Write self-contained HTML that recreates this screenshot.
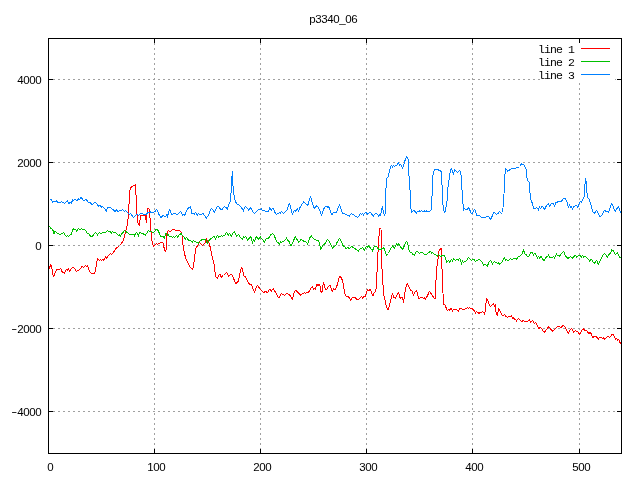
<!DOCTYPE html><html><head><meta charset="utf-8"><title>p3340_06</title><style>
html,body{margin:0;padding:0;background:#fff;width:640px;height:480px;overflow:hidden}
svg{display:block}
text{font-family:"Liberation Sans",sans-serif;font-size:11.5px;fill:#000}
text.k{font-family:"Liberation Mono",monospace;font-size:11.5px}
</style></head><body>
<svg width="640" height="480" viewBox="0 0 640 480">
<rect x="0" y="0" width="640" height="480" fill="#fff"/>
<path d="M154.5 38 V454 M260.5 38 V454 M366.5 38 V454 M472.5 38 V454 M579.5 38 V454 M48 79.5 H622 M48 162.5 H622 M48 245.5 H622 M48 328.5 H622 M48 411.5 H622" stroke="#a0a0a0" stroke-width="1" stroke-dasharray="2 3" fill="none" shape-rendering="crispEdges"/>
<rect x="540" y="39" width="81" height="42" fill="#fff"/>
<rect x="615" y="79" width="1" height="1" fill="#a0a0a0"/>
<path d="M48.5 454 V449 M48.5 38 V43 M154.5 454 V449 M154.5 38 V43 M260.5 454 V449 M260.5 38 V43 M366.5 454 V449 M366.5 38 V43 M472.5 454 V449 M472.5 38 V43 M579.5 454 V449 M579.5 38 V43 M48 79.5 H53 M622 79.5 H617 M48 162.5 H53 M622 162.5 H617 M48 245.5 H53 M622 245.5 H617 M48 328.5 H53 M622 328.5 H617 M48 411.5 H53 M622 411.5 H617" stroke="#000" stroke-width="1" fill="none" shape-rendering="crispEdges"/>
<rect x="48.5" y="38.5" width="573" height="415" stroke="#000" stroke-width="1" fill="none" shape-rendering="crispEdges"/>
<text x="50.5" y="471.0" text-anchor="middle">0</text>
<text x="150.5 156.5 162.5" y="471.0" text-anchor="middle">100</text>
<text x="256.5 262.5 268.5" y="471.0" text-anchor="middle">200</text>
<text x="362.5 368.5 374.5" y="471.0" text-anchor="middle">300</text>
<text x="468.5 474.5 480.5" y="471.0" text-anchor="middle">400</text>
<text x="575.5 581.5 587.5" y="471.0" text-anchor="middle">500</text>
<text x="20.5 26.5 32.5 38.5" y="84.0" text-anchor="middle">4000</text>
<text x="20.5 26.5 32.5 38.5" y="167.0" text-anchor="middle">2000</text>
<text x="38.5" y="250.0" text-anchor="middle">0</text>
<text x="11.2" y="332.0" textLength="6.0" lengthAdjust="spacingAndGlyphs">-</text>
<text x="20.5 26.5 32.5 38.5" y="333.0" text-anchor="middle">2000</text>
<text x="11.2" y="415.0" textLength="6.0" lengthAdjust="spacingAndGlyphs">-</text>
<text x="20.5 26.5 32.5 38.5" y="416.0" text-anchor="middle">4000</text>
<text x="312.5 318.5 324.5 330.5 336.5 342.5 348.5 354.5" y="23.0" text-anchor="middle">p3340_06</text>
<text x="541.5 547.5 553.5 559.5 565.5 571.5" y="53.0" text-anchor="middle" class="k">line 1</text>
<path d="M581 48.5 H610" stroke="#ff0000" stroke-width="1" shape-rendering="crispEdges"/>
<text x="541.5 547.5 553.5 559.5 565.5 571.5" y="66.0" text-anchor="middle" class="k">line 2</text>
<path d="M581 61.5 H610" stroke="#00c000" stroke-width="1" shape-rendering="crispEdges"/>
<text x="541.5 547.5 553.5 559.5 565.5 571.5" y="79.0" text-anchor="middle" class="k">line 3</text>
<path d="M581 74.5 H610" stroke="#0080ff" stroke-width="1" shape-rendering="crispEdges"/>
<path d="M49.3 266.5 L49.7 268.5 L50.5 264.7 L51.3 266.0 L51.7 268.0 L52.3 270.0 L52.7 274.0 L53.5 276.6 L54.5 274.4 L55.5 271.9 L56.5 270.0 L59.0 269.7 L60.5 268.4 L61.5 270.3 L62.5 272.5 L63.5 272.5 L64.5 273.1 L65.5 270.9 L66.5 269.4 L67.5 270.0 L68.5 268.4 L69.5 271.2 L70.5 270.0 L71.5 268.4 L73.0 267.2 L74.5 268.1 L75.5 270.0 L76.5 271.9 L77.5 270.3 L78.5 270.3 L79.5 269.7 L80.5 268.8 L81.5 266.6 L82.5 266.2 L83.5 267.5 L84.5 266.2 L85.5 265.3 L86.5 266.2 L87.5 265.6 L88.3 267.5 L88.7 269.4 L89.5 270.6 L90.5 272.8 L91.5 273.4 L94.5 273.4 L95.5 270.0 L96.3 266.0 L96.7 262.5 L97.5 259.0 L98.5 259.4 L99.5 260.3 L100.5 259.4 L101.5 260.3 L102.5 259.4 L103.5 260.3 L104.5 258.8 L105.5 256.6 L106.5 258.1 L107.5 256.9 L108.5 255.6 L109.5 254.4 L110.5 253.4 L111.5 254.4 L112.5 253.8 L113.5 252.5 L114.5 250.6 L116.1 248.5 L118.0 246.9 L119.5 245.5 L121.0 244.0 L122.5 242.0 L123.5 240.0 L124.5 236.5 L125.5 232.0 L126.5 228.5 L127.5 224.0 L128.5 214.0 L129.2 200.0 L129.7 192.0 L130.5 188.0 L131.7 186.6 L133.9 185.5 L135.5 185.0 L136.0 195.0 L136.5 208.0 L137.2 216.0 L137.7 221.5 L138.5 224.5 L139.3 225.5 L139.8 222.0 L140.5 216.0 L141.5 215.5 L145.5 215.2 L146.3 223.0 L146.7 215.0 L147.5 209.0 L148.5 208.3 L149.5 210.0 L150.3 222.0 L150.7 226.7 L151.5 240.5 L152.3 241.5 L152.7 244.5 L153.5 246.0 L154.5 245.2 L155.5 244.5 L156.5 243.3 L157.5 244.3 L158.5 243.5 L159.5 243.3 L160.5 242.3 L162.5 242.3 L163.3 243.5 L163.7 246.5 L164.5 249.0 L165.3 251.5 L165.9 251.5 L166.3 245.0 L166.7 236.0 L167.3 232.0 L167.8 231.0 L168.5 230.3 L169.5 231.2 L170.5 231.2 L171.5 230.6 L172.5 229.4 L174.5 229.4 L175.5 230.3 L179.5 230.3 L180.5 231.2 L181.5 232.5 L182.2 236.0 L182.5 242.0 L183.3 246.0 L183.7 250.0 L184.5 253.5 L185.5 257.5 L186.5 260.3 L187.5 262.3 L188.5 263.7 L189.5 266.3 L190.5 267.8 L191.5 268.5 L192.5 269.2 L193.3 267.0 L193.7 263.0 L194.3 261.0 L194.7 255.5 L195.3 253.0 L195.7 248.5 L196.5 247.0 L197.5 245.7 L198.5 244.0 L199.5 242.4 L200.5 243.8 L201.5 244.5 L202.5 245.2 L203.5 244.5 L204.5 243.8 L205.5 241.7 L206.5 238.5 L207.5 241.0 L208.1 241.2 L208.5 242.0 L209.5 244.5 L210.5 248.5 L211.5 253.5 L212.5 258.0 L213.5 261.5 L214.3 265.0 L214.7 270.0 L215.3 273.0 L215.7 277.0 L216.5 277.5 L217.5 278.0 L218.5 275.5 L219.5 274.5 L220.5 275.0 L221.5 278.0 L222.5 276.0 L223.5 275.5 L224.5 274.5 L225.5 273.5 L226.5 272.5 L227.5 273.5 L228.5 277.0 L229.5 275.5 L231.0 274.5 L232.5 275.5 L233.5 278.0 L234.5 281.0 L236.0 283.5 L237.5 282.0 L238.5 281.0 L239.5 276.0 L240.5 271.0 L241.5 267.5 L242.5 269.0 L243.5 275.5 L245.0 276.5 L246.5 278.5 L247.5 281.5 L248.5 283.2 L249.5 284.2 L250.5 284.5 L251.5 284.8 L252.5 287.6 L253.5 290.1 L254.5 292.0 L255.5 290.1 L256.5 286.7 L257.5 285.4 L258.5 286.7 L259.5 288.2 L260.5 289.8 L261.5 290.4 L262.5 291.7 L263.5 292.9 L264.5 292.0 L266.0 291.4 L267.5 292.9 L268.5 290.4 L270.0 289.2 L271.5 291.1 L272.5 289.5 L273.5 288.6 L274.5 290.8 L275.5 292.0 L276.5 293.9 L277.5 296.7 L278.5 297.3 L279.5 297.0 L280.5 294.8 L281.5 293.6 L283.0 294.5 L284.5 295.4 L285.5 294.2 L287.0 293.2 L288.5 294.6 L289.5 294.6 L290.5 296.1 L291.5 298.0 L292.5 299.2 L293.5 294.9 L294.5 291.4 L295.5 290.2 L296.5 291.1 L297.5 292.1 L298.5 293.0 L299.5 293.9 L300.5 295.2 L301.5 294.9 L302.5 293.3 L303.5 293.3 L304.5 292.4 L305.5 293.3 L306.5 292.7 L308.0 292.4 L309.5 291.4 L310.5 288.6 L311.5 287.4 L312.5 286.4 L313.5 289.2 L314.5 288.3 L315.5 289.2 L316.5 284.6 L318.0 285.2 L319.5 284.6 L320.3 287.0 L320.7 290.5 L321.5 293.0 L322.3 291.0 L322.7 287.4 L323.5 282.4 L324.5 285.5 L325.5 289.9 L326.5 289.9 L327.5 287.7 L328.5 286.3 L329.5 285.3 L330.5 286.0 L331.5 289.3 L332.5 291.7 L333.5 288.7 L334.5 289.3 L335.5 289.0 L336.5 286.7 L337.5 284.3 L338.5 279.3 L339.5 276.7 L340.5 276.7 L341.5 278.0 L342.5 280.7 L343.5 285.3 L344.5 292.0 L345.5 295.7 L346.5 296.3 L347.5 297.0 L348.5 296.7 L349.5 298.3 L350.5 300.0 L351.5 298.7 L352.5 297.3 L354.0 297.3 L355.5 297.7 L356.5 299.0 L358.0 299.3 L359.5 298.7 L360.5 297.7 L361.5 296.3 L362.5 298.0 L363.5 296.7 L365.0 296.7 L366.5 292.7 L367.5 290.0 L368.6 290.6 L370.2 289.4 L371.8 293.1 L373.0 296.2 L374.2 292.5 L375.8 291.2 L376.5 283.0 L377.5 262.0 L378.5 243.0 L379.3 232.0 L380.0 228.5 L381.0 229.0 L381.5 253.0 L382.5 284.0 L383.3 286.0 L383.7 295.7 L384.5 297.5 L385.5 302.5 L386.5 307.0 L387.5 309.3 L388.5 309.3 L389.5 305.5 L390.5 301.0 L391.5 297.0 L392.5 293.3 L393.5 297.0 L394.5 297.3 L395.5 298.3 L396.5 295.7 L397.5 293.7 L398.5 292.3 L399.5 296.0 L400.5 299.0 L401.5 297.3 L402.5 298.0 L403.5 302.3 L404.5 295.3 L405.5 288.7 L406.5 285.0 L407.5 283.7 L408.5 286.3 L409.5 287.7 L410.5 290.7 L411.5 290.3 L412.5 292.3 L413.5 295.3 L414.5 292.7 L415.5 291.3 L416.5 290.7 L417.5 293.3 L418.5 298.7 L419.5 299.0 L420.5 297.3 L422.5 297.3 L423.5 298.3 L424.5 297.7 L425.5 299.0 L426.5 297.3 L427.5 295.7 L428.5 293.3 L429.5 291.3 L430.5 292.7 L431.5 294.3 L432.5 295.7 L433.5 297.3 L434.5 298.3 L435.3 298.3 L436.2 275.0 L437.1 265.0 L438.0 259.4 L438.5 252.5 L439.6 250.0 L441.2 248.1 L441.8 260.0 L442.1 272.5 L442.8 289.0 L443.5 304.0 L444.5 304.3 L445.3 305.0 L445.7 306.7 L446.5 309.0 L447.5 310.7 L448.5 309.3 L449.5 310.0 L450.5 308.7 L451.5 309.0 L452.5 311.0 L453.5 309.3 L456.5 309.3 L457.5 310.3 L458.5 311.3 L459.5 309.0 L460.5 308.3 L461.5 308.4 L462.5 309.3 L464.5 309.3 L465.5 308.7 L466.5 309.0 L467.5 307.4 L468.5 308.4 L469.5 307.4 L470.5 308.4 L472.0 308.7 L473.5 309.6 L474.5 311.2 L475.5 313.1 L476.5 311.5 L477.5 312.4 L479.0 313.4 L480.5 312.4 L481.5 312.4 L482.5 311.5 L483.5 312.4 L484.5 314.0 L485.3 311.0 L485.7 304.3 L486.3 302.0 L486.7 298.4 L487.5 300.0 L488.5 302.1 L489.5 305.9 L490.5 306.5 L491.5 305.2 L492.5 304.3 L493.5 303.7 L494.5 306.5 L495.3 304.5 L495.7 311.0 L496.5 314.0 L497.5 315.2 L498.5 309.0 L499.5 309.6 L500.5 311.8 L501.5 313.8 L502.5 315.7 L503.5 316.0 L504.5 314.4 L505.5 316.0 L506.5 316.6 L507.5 317.6 L508.5 316.3 L510.5 316.3 L511.5 315.7 L512.5 318.2 L513.5 317.6 L514.5 319.1 L515.5 319.4 L516.5 321.3 L517.5 319.4 L518.5 318.2 L519.5 319.8 L520.5 320.7 L522.0 321.3 L523.5 320.4 L524.5 321.3 L527.5 321.3 L528.5 320.4 L529.5 319.4 L530.5 322.9 L531.5 321.3 L532.5 320.4 L533.5 322.0 L534.5 323.5 L535.5 322.6 L536.5 323.8 L537.5 326.0 L538.5 328.2 L539.5 328.2 L540.5 327.2 L541.5 328.3 L542.5 330.2 L543.5 331.4 L544.5 332.4 L545.5 330.8 L546.5 329.6 L547.5 328.6 L548.5 326.4 L549.5 327.7 L550.5 328.9 L551.5 329.9 L552.5 331.1 L553.5 330.8 L554.5 329.2 L555.5 328.3 L556.5 327.4 L557.5 326.4 L558.5 326.4 L559.5 326.8 L561.0 327.4 L562.5 326.1 L563.5 325.5 L564.5 326.1 L565.5 328.0 L566.5 329.9 L567.5 331.8 L568.5 333.0 L569.5 331.1 L570.5 329.6 L571.5 328.3 L572.5 329.9 L573.5 332.1 L574.5 331.4 L575.5 330.5 L576.5 331.1 L577.5 331.4 L578.5 332.7 L579.5 334.2 L580.5 333.0 L581.5 330.9 L582.5 329.6 L583.5 329.0 L584.5 329.9 L585.5 330.9 L586.5 330.6 L587.5 331.8 L588.5 333.4 L589.5 333.1 L590.5 332.4 L591.5 334.6 L592.5 337.8 L593.5 337.1 L595.0 336.2 L596.5 336.8 L597.5 338.1 L598.5 339.0 L599.5 337.4 L601.5 337.4 L602.5 338.7 L603.5 337.1 L604.5 340.0 L605.5 338.4 L606.5 337.4 L607.5 336.8 L608.5 336.5 L609.5 337.4 L610.5 336.5 L611.5 334.9 L612.5 334.3 L613.5 334.9 L614.5 337.1 L615.5 339.6 L616.5 338.4 L617.5 340.2 L618.5 339.3 L619.5 340.9 L620.5 344.0" stroke="#ff0000" stroke-width="1" fill="none" stroke-linejoin="round" shape-rendering="crispEdges"/>
<path d="M49.5 226.4 L50.5 228.0 L51.5 228.6 L52.5 229.5 L53.2 231.0 L53.7 234.0 L54.3 233.5 L54.8 231.5 L55.5 231.7 L56.5 232.6 L57.5 233.3 L58.5 233.5 L59.5 234.8 L60.5 234.2 L61.5 233.6 L62.5 233.2 L63.5 232.3 L64.5 233.9 L65.5 235.4 L66.5 236.4 L67.5 235.4 L68.5 236.4 L69.5 235.4 L70.5 234.2 L71.5 234.0 L72.5 230.4 L73.5 228.6 L74.5 229.4 L75.5 229.5 L76.5 231.0 L77.5 229.8 L78.5 228.6 L79.5 229.5 L80.5 229.4 L81.5 228.6 L82.5 229.4 L84.0 229.5 L85.5 230.4 L86.5 232.0 L87.5 233.5 L88.5 233.2 L89.5 234.5 L90.5 236.7 L91.5 236.4 L92.5 236.0 L93.5 234.8 L94.5 233.6 L95.5 232.3 L96.5 233.2 L97.5 235.1 L98.5 233.6 L99.5 232.3 L100.5 233.9 L101.5 233.9 L102.5 232.3 L105.5 232.3 L106.5 231.4 L107.5 230.4 L108.5 231.7 L109.5 231.4 L110.5 231.7 L111.5 233.2 L112.5 231.4 L113.5 232.3 L115.5 232.3 L116.5 233.9 L117.5 234.5 L118.5 235.1 L119.5 234.8 L120.5 236.0 L121.5 233.9 L122.5 233.2 L123.5 231.7 L124.5 230.4 L125.5 231.7 L127.5 232.3 L128.5 233.6 L129.5 234.2 L133.5 234.2 L134.5 236.0 L135.5 233.2 L136.5 232.3 L137.5 233.9 L138.5 236.0 L139.5 232.6 L140.5 232.3 L141.5 233.2 L142.5 233.2 L143.5 234.2 L144.5 234.5 L145.5 235.1 L146.5 233.6 L147.5 232.0 L148.5 230.1 L149.5 231.4 L150.5 231.7 L153.5 232.3 L154.5 231.7 L155.5 230.1 L156.5 229.2 L157.5 229.8 L158.5 231.4 L159.5 233.6 L160.5 237.0 L161.5 236.4 L163.5 236.7 L164.2 238.5 L164.8 236.4 L165.5 233.9 L166.5 233.2 L167.5 235.1 L168.5 234.7 L169.5 236.9 L170.5 236.2 L171.5 236.6 L172.5 237.2 L173.5 236.6 L174.5 237.5 L175.5 236.6 L176.5 235.3 L177.5 237.2 L178.5 235.9 L179.5 234.7 L180.5 234.1 L181.5 233.4 L182.5 235.9 L183.5 236.2 L184.5 237.8 L185.5 239.1 L186.5 237.5 L187.5 238.8 L188.5 240.3 L190.5 240.3 L191.5 241.2 L192.5 242.2 L193.5 240.3 L194.5 241.2 L195.5 241.6 L196.5 242.2 L197.5 242.5 L198.5 243.1 L199.5 241.6 L200.5 240.9 L201.5 240.0 L203.5 239.4 L204.5 240.0 L205.5 239.1 L206.5 241.6 L207.5 243.1 L208.5 241.3 L209.5 240.0 L210.5 238.8 L211.5 238.8 L212.5 237.6 L213.5 236.3 L214.5 236.6 L215.5 239.1 L216.5 236.6 L217.5 235.4 L218.5 237.2 L219.5 236.6 L220.5 236.3 L221.5 235.4 L222.5 236.3 L223.5 235.7 L224.5 236.0 L225.5 233.5 L226.5 232.2 L227.5 233.8 L228.5 235.1 L229.5 233.5 L230.5 234.8 L231.5 236.3 L232.5 233.8 L233.5 232.6 L234.5 231.3 L235.5 233.8 L236.5 236.9 L237.5 235.4 L238.5 234.4 L239.5 236.0 L240.5 237.9 L241.5 238.5 L242.5 239.1 L243.5 236.9 L244.5 237.2 L245.5 236.3 L246.5 238.2 L247.5 240.1 L248.5 239.3 L249.5 238.1 L250.5 236.5 L251.5 238.4 L252.5 243.1 L253.5 239.9 L254.5 241.8 L255.5 238.4 L256.5 236.5 L257.5 237.8 L258.5 239.3 L259.5 237.8 L260.5 236.8 L261.5 238.7 L262.5 239.3 L263.5 240.9 L264.5 242.1 L265.5 239.6 L266.5 238.4 L268.5 238.4 L269.5 236.8 L270.5 234.9 L271.5 234.3 L272.5 233.4 L273.5 234.3 L274.5 235.9 L275.5 239.0 L276.5 241.2 L277.5 242.4 L278.5 243.1 L279.5 244.0 L280.5 241.8 L281.5 242.4 L282.5 241.5 L283.5 241.2 L284.5 240.6 L285.5 239.9 L286.5 237.4 L287.5 239.9 L288.5 240.6 L289.5 242.4 L290.5 244.9 L291.5 245.9 L292.5 242.8 L293.5 240.6 L294.5 238.4 L295.5 236.5 L296.5 239.0 L297.5 240.2 L298.5 242.1 L299.5 241.5 L300.5 239.9 L301.5 239.3 L302.5 240.2 L303.5 241.2 L304.5 241.2 L305.5 241.5 L306.5 242.4 L307.5 244.0 L308.5 241.5 L309.5 238.7 L310.5 236.5 L311.5 235.6 L312.5 237.8 L313.5 238.4 L314.5 239.6 L315.5 239.3 L316.5 240.2 L317.5 240.6 L318.5 240.9 L319.5 243.1 L320.3 247.8 L320.7 250.0 L321.5 247.8 L322.5 245.9 L323.5 244.6 L324.5 244.0 L325.5 243.1 L326.5 241.2 L327.5 239.3 L328.5 240.8 L329.5 241.7 L330.5 244.2 L331.5 246.1 L332.5 248.0 L333.5 247.0 L334.5 246.4 L335.5 245.8 L336.5 243.6 L337.5 241.7 L338.5 239.8 L339.5 238.2 L340.5 239.8 L341.5 242.0 L342.5 244.2 L343.5 246.7 L344.5 246.4 L345.5 248.0 L346.5 248.2 L347.5 247.3 L348.5 248.0 L349.5 248.2 L350.5 247.6 L351.5 246.4 L352.5 247.0 L353.5 247.3 L354.5 248.2 L355.5 249.2 L356.5 249.5 L357.5 250.4 L358.5 251.1 L359.5 249.5 L360.5 248.6 L361.5 248.2 L362.5 247.3 L363.5 248.6 L364.5 250.1 L365.5 248.0 L366.5 246.4 L367.5 247.3 L368.5 246.0 L369.5 246.9 L370.5 248.2 L371.5 249.4 L372.5 251.0 L373.5 248.2 L374.5 246.3 L376.5 246.3 L377.5 247.6 L378.5 249.4 L379.5 249.4 L380.5 250.0 L381.5 249.1 L382.5 248.5 L383.5 247.6 L384.5 249.4 L385.5 252.6 L386.5 255.4 L387.5 254.8 L388.5 253.5 L389.5 251.0 L390.5 248.8 L391.5 247.6 L392.5 246.0 L393.5 246.6 L394.5 248.2 L395.5 245.7 L396.5 243.8 L397.5 245.4 L398.5 243.8 L399.5 244.8 L400.5 246.6 L401.5 248.2 L402.5 249.4 L403.5 247.6 L404.5 245.4 L405.5 242.6 L406.5 241.3 L407.5 242.9 L408.3 245.5 L408.7 249.0 L409.5 251.1 L410.5 252.7 L411.5 252.4 L412.5 253.9 L413.5 254.6 L414.5 255.8 L415.5 252.7 L416.5 251.4 L417.5 251.4 L418.5 252.7 L419.5 253.3 L420.5 252.4 L422.5 252.4 L423.5 253.6 L424.5 254.6 L426.5 254.6 L427.5 253.6 L428.5 252.4 L429.5 252.1 L430.5 251.1 L431.5 253.0 L432.5 252.4 L433.5 253.6 L434.5 254.6 L435.5 254.6 L436.5 255.5 L437.5 256.1 L438.5 254.6 L439.5 255.5 L440.5 256.4 L441.5 256.1 L442.5 255.5 L443.5 255.5 L444.5 255.8 L445.5 258.0 L446.5 262.5 L447.5 261.6 L448.5 260.3 L449.5 262.2 L450.5 260.6 L451.5 259.4 L452.5 261.2 L453.5 258.4 L454.5 259.7 L455.5 260.3 L456.5 259.4 L457.5 259.4 L458.5 260.0 L459.5 258.4 L460.5 260.0 L461.5 264.1 L462.5 260.6 L463.5 262.8 L464.5 261.6 L465.5 261.2 L466.5 260.9 L467.5 259.1 L468.5 257.5 L469.5 258.1 L470.5 259.7 L471.5 260.3 L472.5 259.4 L473.5 259.4 L474.5 260.0 L475.5 261.9 L476.5 260.6 L477.5 260.3 L478.5 259.7 L479.5 259.4 L480.5 260.6 L481.5 261.2 L482.5 262.5 L483.5 265.6 L484.5 264.7 L485.5 264.4 L486.5 265.4 L487.5 266.6 L488.5 262.6 L489.5 261.6 L490.5 260.4 L491.5 261.6 L492.5 264.1 L493.5 262.6 L494.5 261.3 L495.5 262.2 L496.5 262.6 L497.5 263.5 L498.5 262.6 L499.5 264.1 L500.5 263.5 L501.5 262.6 L502.5 261.3 L503.5 258.8 L504.5 257.6 L505.5 260.1 L506.5 259.4 L507.5 260.4 L508.5 260.4 L509.5 259.8 L510.5 258.5 L511.5 259.1 L512.5 259.4 L513.5 258.8 L514.5 258.5 L515.5 258.8 L516.5 259.4 L517.5 257.9 L518.5 256.6 L519.5 256.3 L520.5 255.7 L521.5 254.4 L522.5 253.2 L523.5 249.8 L524.5 252.9 L525.5 254.4 L526.5 254.8 L527.5 256.9 L528.5 256.6 L529.5 254.8 L530.5 253.2 L531.5 252.2 L532.5 253.2 L533.5 255.1 L534.5 253.5 L535.5 253.8 L536.5 256.3 L537.5 258.2 L538.5 256.3 L539.5 258.2 L540.5 256.6 L541.5 256.9 L542.5 258.8 L543.5 260.4 L544.5 260.1 L545.5 258.2 L546.5 256.6 L547.5 256.9 L548.5 254.4 L549.5 257.9 L550.5 257.6 L551.5 257.6 L552.5 257.2 L553.5 256.3 L554.5 258.2 L555.5 255.7 L556.5 253.8 L557.5 255.7 L558.5 255.4 L559.5 256.3 L560.5 254.8 L561.5 253.5 L562.5 252.9 L563.5 251.3 L564.5 253.2 L565.5 256.0 L566.5 257.2 L567.5 258.2 L568.5 258.2 L569.5 257.2 L570.5 256.3 L571.5 257.9 L572.5 258.2 L573.5 257.2 L574.5 256.0 L575.5 255.4 L576.5 257.2 L577.5 256.3 L578.5 255.4 L579.5 255.4 L580.5 255.7 L581.5 257.2 L582.5 255.4 L583.5 257.2 L584.5 256.3 L585.5 256.3 L586.5 257.2 L587.5 258.8 L588.5 259.4 L589.5 261.0 L590.5 260.1 L591.5 259.4 L592.5 260.7 L593.5 262.6 L594.5 263.2 L595.5 261.9 L596.5 260.4 L597.5 262.2 L598.5 264.8 L599.5 261.9 L600.5 259.8 L601.5 257.8 L602.5 255.7 L603.5 254.6 L604.5 253.4 L605.5 254.4 L606.5 255.9 L607.5 257.8 L608.5 255.0 L609.5 253.8 L610.5 253.6 L611.5 249.8 L612.5 250.2 L613.5 250.9 L614.5 252.8 L615.5 254.8 L616.5 253.4 L617.5 252.8 L618.5 254.8 L619.5 256.7 L620.5 258.0" stroke="#00c000" stroke-width="1" fill="none" stroke-linejoin="round" shape-rendering="crispEdges"/>
<path d="M49.5 199.5 L51.5 199.5 L52.5 202.5 L53.5 201.5 L55.5 201.5 L56.5 200.5 L57.5 202.5 L60.5 202.5 L61.5 201.5 L62.5 202.5 L63.5 202.5 L64.5 203.5 L65.5 202.5 L66.5 201.5 L67.5 200.5 L68.5 203.5 L69.5 203.0 L70.5 202.5 L71.5 203.5 L72.5 199.5 L73.5 200.5 L74.5 199.5 L75.5 199.5 L76.5 200.5 L77.5 200.5 L78.5 198.5 L79.5 199.5 L80.5 198.0 L81.5 197.5 L82.5 199.5 L83.5 200.5 L84.5 200.5 L85.5 199.5 L86.5 199.5 L87.5 201.5 L88.5 202.5 L90.5 202.5 L91.5 204.5 L92.5 204.5 L93.5 203.5 L94.5 202.5 L95.5 202.5 L96.5 203.5 L97.5 204.5 L98.5 206.5 L99.5 205.5 L100.5 205.5 L101.5 207.5 L102.5 206.5 L103.5 207.5 L104.5 208.5 L105.5 209.5 L106.2 211.5 L106.8 209.5 L107.5 207.5 L110.5 207.5 L111.5 208.5 L112.5 209.5 L113.5 209.5 L114.5 211.5 L115.5 211.5 L116.5 209.5 L117.5 211.5 L118.5 211.5 L119.5 210.5 L121.5 210.5 L122.5 209.5 L123.5 210.5 L124.5 211.5 L125.5 210.5 L126.5 211.5 L127.5 212.5 L128.5 213.5 L129.5 214.5 L130.5 213.5 L131.5 214.5 L132.5 216.5 L133.5 217.5 L134.5 216.5 L135.5 215.5 L136.5 214.9 L137.5 214.6 L138.5 215.5 L139.5 214.2 L140.5 213.6 L141.5 213.3 L142.5 213.6 L143.5 214.2 L144.5 214.6 L145.5 214.9 L146.5 214.2 L147.5 213.0 L149.5 212.4 L150.5 211.8 L151.5 213.0 L152.5 212.7 L153.5 212.4 L154.5 211.8 L155.5 211.1 L156.5 209.6 L157.5 210.8 L158.5 213.9 L159.5 214.9 L160.5 217.1 L161.5 217.1 L162.5 215.8 L163.5 215.2 L164.5 216.4 L165.5 216.8 L166.5 214.9 L167.5 217.4 L168.5 211.8 L169.5 209.6 L170.5 211.4 L171.5 214.6 L172.5 214.2 L173.5 213.9 L175.5 213.3 L176.5 214.6 L177.5 214.6 L178.5 213.3 L179.5 212.7 L180.5 211.4 L181.5 212.7 L182.5 215.8 L183.5 214.6 L184.5 215.2 L185.5 213.6 L186.5 210.8 L187.5 208.6 L189.5 207.4 L190.5 206.4 L191.3 210.2 L191.8 213.6 L193.5 213.3 L194.5 214.2 L195.5 212.4 L196.5 213.6 L197.5 215.2 L198.5 213.3 L199.5 214.6 L201.5 214.6 L202.5 213.6 L203.5 213.9 L204.5 215.8 L205.5 216.8 L206.5 218.0 L207.5 216.1 L208.5 215.8 L209.5 212.4 L210.5 209.9 L211.5 208.3 L212.5 209.6 L213.5 210.8 L214.5 212.1 L215.5 209.6 L216.5 207.9 L217.5 206.3 L218.5 206.3 L219.5 207.6 L220.5 209.1 L221.5 209.4 L222.5 209.1 L223.5 207.2 L224.5 206.3 L225.5 207.2 L226.5 208.2 L227.5 209.1 L228.5 204.5 L229.5 203.0 L230.5 201.0 L231.5 185.0 L232.3 171.0 L232.7 183.0 L233.5 190.0 L234.3 198.0 L235.5 201.5 L236.5 203.5 L237.5 204.8 L238.5 204.4 L239.5 205.7 L240.5 206.6 L241.5 207.9 L242.5 208.8 L243.5 211.3 L244.5 207.2 L245.5 206.3 L246.5 207.6 L247.5 208.2 L248.5 210.1 L249.5 208.8 L250.5 207.6 L251.5 209.4 L252.5 211.0 L253.5 212.6 L254.5 213.2 L255.5 212.9 L256.5 211.2 L257.5 210.6 L258.5 209.4 L260.5 209.4 L261.5 208.4 L262.5 210.9 L263.5 210.3 L264.5 210.3 L265.5 211.2 L267.5 211.2 L268.5 211.9 L269.5 207.5 L270.5 209.4 L271.5 210.0 L272.5 208.4 L273.5 208.4 L274.5 211.6 L275.5 213.1 L276.5 214.4 L277.5 213.4 L278.5 213.4 L279.5 212.5 L280.5 213.1 L281.5 211.6 L282.5 212.5 L283.5 213.4 L284.5 212.5 L285.5 211.6 L286.5 210.6 L287.5 208.8 L288.5 205.0 L289.5 203.8 L290.5 206.9 L291.5 211.2 L292.5 214.4 L293.5 211.9 L294.5 210.3 L295.5 211.2 L296.5 209.6 L297.5 208.7 L298.5 211.5 L299.5 208.4 L300.5 206.5 L301.5 204.9 L302.5 203.7 L303.5 201.8 L304.5 202.4 L305.5 203.4 L306.5 204.3 L307.5 205.9 L308.5 203.1 L309.5 199.0 L310.5 196.8 L311.5 199.6 L312.5 203.4 L313.5 206.5 L314.5 208.7 L315.5 207.4 L316.5 205.6 L317.5 206.2 L318.5 207.4 L319.5 209.9 L320.5 212.8 L321.5 215.2 L322.5 212.8 L323.5 209.6 L324.5 207.4 L326.0 206.5 L327.5 207.1 L328.5 206.5 L329.5 208.7 L330.5 211.8 L331.5 214.0 L332.5 214.0 L333.5 212.4 L335.5 212.4 L336.5 212.4 L337.5 209.9 L338.5 206.8 L339.5 204.6 L340.5 207.1 L341.5 210.2 L342.5 213.0 L344.0 213.3 L345.5 214.2 L346.5 214.6 L347.5 215.5 L348.5 215.5 L349.5 216.1 L350.5 214.2 L351.5 213.3 L352.5 214.2 L353.5 214.6 L354.5 215.5 L356.0 216.4 L357.5 217.4 L358.5 216.8 L359.5 214.6 L360.5 213.3 L361.5 214.2 L362.5 213.3 L363.5 215.2 L364.5 213.3 L365.5 212.4 L366.5 212.7 L367.5 214.2 L368.5 213.3 L369.5 212.4 L370.5 212.7 L371.5 213.9 L372.5 215.2 L373.5 216.1 L374.5 214.2 L375.5 213.3 L376.5 213.5 L377.5 214.5 L378.5 216.0 L379.5 215.0 L380.5 215.5 L381.5 210.5 L382.3 206.0 L382.8 209.0 L383.5 212.5 L384.5 216.0 L385.3 213.0 L385.7 195.0 L386.5 178.5 L387.5 177.4 L388.3 176.5 L388.7 174.5 L389.5 171.0 L390.3 168.5 L390.7 166.0 L391.5 165.4 L392.5 167.2 L393.5 165.4 L394.5 166.3 L395.5 165.7 L396.5 165.4 L397.5 164.0 L398.5 162.5 L399.5 165.1 L400.5 164.5 L401.5 166.0 L402.5 168.0 L403.5 166.0 L404.5 162.0 L405.5 159.0 L406.5 156.4 L407.5 157.2 L408.3 160.0 L408.7 171.7 L409.5 183.0 L410.3 194.0 L410.7 206.7 L411.5 213.0 L412.5 211.3 L413.5 210.4 L414.5 210.8 L415.5 212.0 L416.5 213.0 L417.5 211.3 L418.5 211.9 L419.5 210.8 L420.5 211.3 L421.5 210.4 L422.5 211.3 L423.5 211.9 L424.5 210.8 L425.5 211.3 L426.5 210.8 L427.5 211.9 L428.5 211.9 L429.5 211.3 L430.5 210.8 L431.3 210.0 L431.7 198.0 L432.3 195.0 L432.7 177.5 L433.5 172.0 L434.5 169.3 L436.0 170.0 L437.5 169.3 L439.0 170.3 L440.5 170.7 L441.3 172.0 L441.7 184.0 L442.3 186.0 L442.7 203.0 L443.5 208.0 L444.5 213.0 L445.5 210.0 L446.5 204.5 L447.3 199.0 L447.7 189.0 L448.3 186.0 L448.7 182.0 L449.3 178.0 L449.6 173.5 L450.3 172.5 L450.7 169.5 L451.5 168.5 L452.3 170.3 L452.7 172.4 L453.5 174.5 L454.3 171.0 L454.7 169.5 L455.5 170.3 L456.5 171.4 L457.5 172.4 L458.5 171.2 L459.5 170.3 L460.3 171.2 L460.7 174.5 L461.3 175.5 L461.7 185.0 L462.3 195.0 L463.5 210.1 L464.5 208.2 L466.0 210.1 L467.5 208.9 L468.5 207.6 L469.5 209.5 L470.5 211.7 L471.5 213.9 L472.5 212.9 L473.5 210.8 L474.5 209.5 L475.5 210.8 L476.5 215.8 L479.5 215.4 L480.5 216.4 L481.5 217.3 L485.5 217.3 L487.0 216.4 L488.5 216.7 L489.5 217.6 L490.5 219.2 L491.5 217.9 L492.5 215.1 L493.5 212.9 L494.5 212.3 L495.5 213.9 L497.0 214.2 L498.5 212.9 L499.5 211.4 L500.5 212.9 L501.5 213.2 L502.5 212.5 L503.8 200.0 L504.5 179.0 L505.5 169.0 L506.5 169.5 L507.5 171.0 L508.5 170.5 L510.0 169.8 L511.5 168.5 L513.5 168.5 L515.5 168.3 L516.5 167.5 L518.0 167.5 L519.5 166.5 L520.5 165.5 L521.5 163.5 L522.5 164.5 L524.0 165.0 L525.0 167.0 L526.0 169.0 L526.5 174.5 L527.5 180.5 L529.0 182.0 L529.8 191.0 L530.3 195.0 L530.7 199.5 L531.5 201.0 L532.5 204.0 L533.3 207.0 L533.7 209.0 L534.5 208.6 L535.5 208.2 L536.5 207.3 L537.5 208.2 L538.5 210.1 L539.5 206.7 L540.5 208.9 L541.5 206.7 L542.5 206.7 L543.5 207.9 L544.5 209.2 L545.5 207.6 L546.5 205.4 L547.5 204.5 L548.5 203.6 L549.5 206.4 L550.5 205.1 L551.5 203.6 L552.5 203.2 L553.5 203.6 L554.5 207.0 L555.5 202.9 L557.0 202.3 L558.5 201.4 L561.5 201.4 L562.5 199.8 L563.5 198.2 L564.5 198.4 L565.5 198.6 L566.5 200.7 L567.5 204.0 L568.5 207.3 L569.5 204.8 L570.5 207.8 L571.5 206.9 L572.5 209.0 L573.5 206.9 L575.0 206.1 L576.5 205.2 L577.5 207.3 L578.5 205.7 L579.5 203.2 L580.5 201.5 L581.5 202.3 L582.5 199.8 L583.5 198.6 L584.3 196.0 L584.7 188.0 L585.3 180.0 L585.6 178.0 L586.2 183.0 L586.7 190.0 L587.5 197.0 L588.5 198.6 L589.5 199.8 L590.5 203.2 L591.5 207.3 L592.5 210.5 L593.5 212.8 L594.5 213.2 L595.5 211.8 L596.5 210.2 L597.5 212.0 L598.5 214.5 L599.5 216.2 L600.5 216.2 L601.5 215.8 L602.5 213.8 L603.5 211.8 L604.5 210.5 L606.0 211.2 L607.5 211.5 L608.5 212.5 L609.5 210.0 L610.5 206.2 L611.5 203.5 L612.5 204.8 L613.5 206.8 L614.5 210.5 L615.5 211.0 L616.5 209.2 L617.5 207.8 L618.5 206.8 L619.5 209.2 L620.5 212.8" stroke="#0080ff" stroke-width="1" fill="none" stroke-linejoin="round" shape-rendering="crispEdges"/>
</svg></body></html>
